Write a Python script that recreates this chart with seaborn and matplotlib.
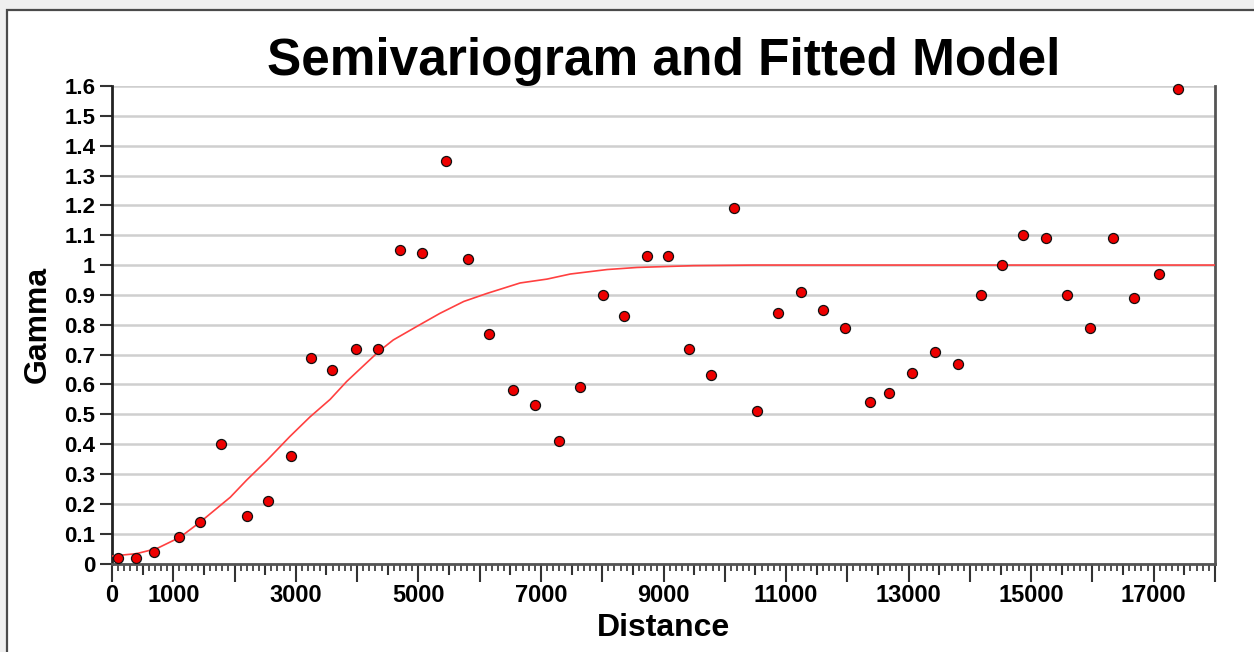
import matplotlib
matplotlib.use("Agg")
import matplotlib.pyplot as plt
import matplotlib.ticker as mticker
from matplotlib.patches import Rectangle
import seaborn as sns
import pandas as pd

# ---- data ----
lag_distance = [103, 392, 686, 1099, 1442, 1785, 2199, 2542, 2918, 3254,
                3597, 3979, 4348, 4702, 5066, 5448, 5817, 6160, 6542, 6906,
                7293, 7630, 8005, 8348, 8724, 9066, 9409, 9780, 10155, 10531,
                10874, 11249, 11597, 11967, 12376, 12686, 13061, 13437, 13812, 14188,
                14531, 14869, 15249, 15587, 15963, 16338, 16681, 17090, 17393]
gamma_values = [0.02, 0.02, 0.04, 0.09, 0.14, 0.40, 0.16, 0.21, 0.36, 0.69,
                0.65, 0.72, 0.72, 1.05, 1.04, 1.35, 1.02, 0.77, 0.58, 0.53,
                0.41, 0.59, 0.90, 0.83, 1.03, 1.03, 0.72, 0.63, 1.19, 0.51,
                0.84, 0.91, 0.85, 0.79, 0.54, 0.57, 0.64, 0.71, 0.67, 0.90,
                1.00, 1.10, 1.09, 0.90, 0.79, 1.09, 0.89, 0.97, 1.59]

model_distance = [0, 400, 730, 1110, 1440, 1930, 2200, 2530, 2900, 3230,
                  3560, 3830, 4350, 4590, 4980, 5350, 5740, 6120, 6660, 7100,
                  7480, 8080, 8570, 9490, 10500, 18000]
model_gamma = [0.025, 0.033, 0.05, 0.088, 0.139, 0.222, 0.28, 0.346, 0.425, 0.491,
               0.55, 0.61, 0.71, 0.749, 0.795, 0.838, 0.878, 0.905, 0.940, 0.953,
               0.970, 0.985, 0.992, 0.998, 1.0, 1.0]

x_label_values = [0, 1000, 3000, 5000, 7000, 9000, 11000, 13000, 15000, 17000]
y_tick_values = [0, 0.1, 0.2, 0.3, 0.4, 0.5, 0.6, 0.7, 0.8, 0.9, 1.0,
                 1.1, 1.2, 1.3, 1.4, 1.5, 1.6]

title_text = "Semivariogram and Fitted Model"
x_title = "Distance"
y_title = "Gamma"

pts = pd.DataFrame({"Distance": lag_distance, "Gamma": gamma_values})
model = pd.DataFrame({"Distance": model_distance, "Gamma": model_gamma})

sns.set_style("white")
plt.rcParams["font.family"] = ["Liberation Sans", "DejaVu Sans"]
plt.rcParams["text.color"] = "black"
plt.rcParams["axes.labelcolor"] = "black"
plt.rcParams["xtick.color"] = "black"
plt.rcParams["ytick.color"] = "black"

W, H = 1254, 652
fig = plt.figure(figsize=(W / 100, H / 100), dpi=100, facecolor="#efefef")

# outer white panel with dark left/top border
panel = Rectangle((7 / W, -0.05), 1.2, 1 - 10 / H + 0.05, transform=fig.transFigure,
                  facecolor="white", edgecolor="#4a4a4a", linewidth=1.6, zorder=-5)
fig.patches.append(panel)

left, right, top, bottom = 112, 1215, 86, 563.5
ax = fig.add_axes([left / W, 1 - bottom / H, (right - left) / W, (bottom - top) / H])
ax.set_zorder(1)
ax.set_facecolor("white")

sns.lineplot(data=model, x="Distance", y="Gamma", ax=ax, color="#ff4040",
             linewidth=1.2, zorder=3, estimator=None, sort=False)
sns.scatterplot(data=pts, x="Distance", y="Gamma", ax=ax, color="#ee0000",
                edgecolor="#111111", linewidth=0.9, s=52, zorder=4, clip_on=False)

ax.set_xlim(0, 18000)
ax.set_ylim(0, 1.6)

# grid
ax.set_yticks(y_tick_values)
ax.yaxis.grid(True, color="#cfcfcf", linewidth=1.8, zorder=0)
ax.xaxis.grid(False)
ax.set_axisbelow(True)

ax.set_yticklabels([("%g" % v) for v in y_tick_values], fontsize=16,
                   fontweight="bold", color="black")

# x ticks: majors every 500 (labels only on selected), minors every 100
major_x = list(range(0, 18001, 500))
ax.set_xticks(major_x)
ax.set_xticklabels([str(v) if v in x_label_values else "" for v in major_x],
                   fontsize=17, fontweight="bold", color="black")
ax.xaxis.set_minor_locator(mticker.MultipleLocator(100))

ax.tick_params(axis="y", which="major", direction="out", length=9, width=1.5,
               color="#333333", pad=3, left=True, right=False)
ax.tick_params(axis="x", which="major", direction="out", length=13, width=1.5,
               color="#333333", pad=2, bottom=True)
ax.tick_params(axis="x", which="minor", direction="out", length=5, width=1.2,
               color="#333333", bottom=True)
for v, t in zip(major_x, ax.xaxis.get_major_ticks()):
    if v % 1000 != 0:
        t.tick1line.set_markersize(8)

ax.spines["top"].set_visible(False)
ax.spines["left"].set_color("#222222")
ax.spines["left"].set_linewidth(2)
ax.spines["bottom"].set_color("#555555")
ax.spines["bottom"].set_linewidth(2)
ax.spines["right"].set_color("#555555")
ax.spines["right"].set_linewidth(2)

ax.set_xlabel(x_title, fontsize=23, fontweight="bold", labelpad=4, color="black")
ax.set_ylabel(y_title, fontsize=23, fontweight="bold", labelpad=8, color="black")
ax.set_title(title_text, fontsize=37, fontweight="bold", pad=4, color="black")

fig.savefig("out.png", dpi=100, facecolor=fig.get_facecolor())
